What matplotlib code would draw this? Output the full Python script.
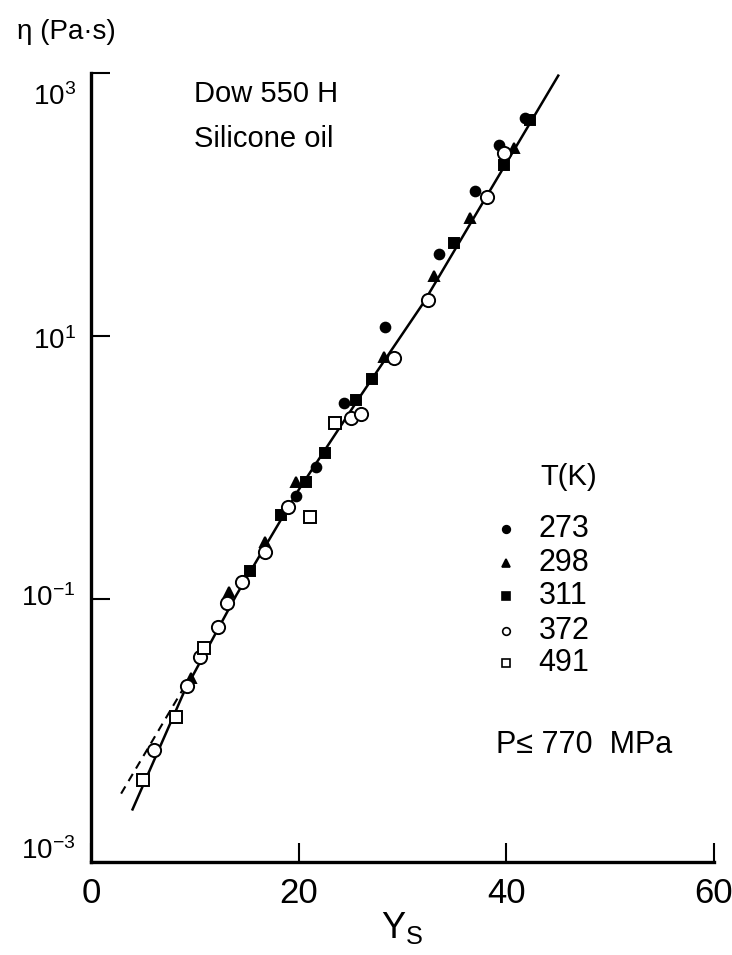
import matplotlib
matplotlib.use("Agg")
import matplotlib.pyplot as plt
from matplotlib import font_manager
import numpy as np

plt.rcParams["font.family"] = ["Liberation Sans", "DejaVu Sans"]
plt.rcParams["mathtext.fontset"] = "custom"
plt.rcParams["mathtext.rm"] = "Liberation Sans"
plt.rcParams["mathtext.it"] = "Liberation Sans:italic"
plt.rcParams["mathtext.bf"] = "Liberation Sans:bold"

# ── data: Ys and log10(viscosity) per temperature ────────────────────────────
ys_273 = [19.7, 21.7, 24.4, 28.3, 33.5, 37.0, 39.3, 41.8]
lg_273 = [-0.22, 0.00, 0.49, 1.07, 1.62, 2.10, 2.45, 2.66]

ys_298 = [9.6, 13.3, 16.8, 19.7, 28.2, 33.0, 36.5, 40.7]
lg_298 = [-1.60, -0.95, -0.57, -0.11, 0.84, 1.46, 1.90, 2.43]

ys_311 = [15.3, 18.3, 20.7, 22.5, 25.5, 27.1, 35.0, 39.8, 42.3]
lg_311 = [-0.79, -0.36, -0.11, 0.11, 0.51, 0.67, 1.71, 2.30, 2.64]

ys_372 = [6.1, 9.2, 10.5, 12.2, 13.1, 14.5, 16.8, 19.0, 25.0, 26.0, 29.2, 32.5, 38.1, 39.8]
lg_372 = [-2.15, -1.66, -1.44, -1.21, -1.03, -0.87, -0.64, -0.30, 0.38, 0.41, 0.83, 1.27, 2.06, 2.39]

ys_491 = [5.0, 8.2, 10.9, 21.1, 23.5]
lg_491 = [-2.38, -1.90, -1.37, -0.38, 0.34]

# correlation curve and its low-Ys dashed branch
fit_ys = [4.0, 9.0, 14.0, 20.0, 26.0, 32.0, 38.0, 45.0]
fit_lg = [-2.60, -1.70, -0.97, -0.17, 0.55, 1.25, 2.05, 2.98]
dash_ys = [2.9, 9.5]
dash_lg = [-2.48, -1.60]

temps = ["273", "298", "311", "372", "491"]
xtick_vals = [0, 20, 40, 60]
ytick_vals = [1e-3, 1e-1, 1e1, 1e3]
ytick_text = [r"$\mathregular{10^{-3}}$", r"$\mathregular{10^{-1}}$",
              r"$\mathregular{10^{1}}$", r"$\mathregular{10^{3}}$"]

# narrow face for the Ys numbers if it is around
installed = {f.name for f in font_manager.fontManager.ttflist}
if "Liberation Sans Narrow" in installed:
    xfont, xsize = "Liberation Sans Narrow", 28
else:
    xfont, xsize = "Liberation Sans", 25

fig = plt.figure(figsize=(7.32, 9.55), dpi=100)
ax = fig.add_axes([91 / 732, 1 - 862 / 955, 623 / 732, 789 / 955])
ax.set_yscale("log")
ax.set_xlim(0, 60)
ax.set_ylim(1e-3, 1e3)

ax.plot(fit_ys, 10 ** np.array(fit_lg), color="black", lw=1.8, clip_on=False, zorder=2)
ax.plot(dash_ys, 10 ** np.array(dash_lg), color="black", lw=1.5, ls=(0, (4, 3)), zorder=2)

series = [
    (ys_273, lg_273, "o", "black", 7),
    (ys_298, lg_298, "^", "black", 7),
    (ys_311, lg_311, "s", "black", 7),
    (ys_372, lg_372, "o", "white", 9.5),
    (ys_491, lg_491, "s", "white", 8.5),
]
for xs, lg, mk, fc, ms in series:
    ax.plot(xs, 10 ** np.array(lg), ls="none", marker=mk, ms=ms,
            mfc=fc, mec="black", mew=1.4, zorder=3, clip_on=False)

# legend drawn by hand as a column of markers and numbers
leg_lg = [-0.47, -0.73, -0.98, -1.24, -1.49]
for (xs, lg, mk, fc, ms), t, ly in zip(series, temps, leg_lg):
    ax.plot([40.0], [10 ** ly], marker=mk, ms=5.5, mfc=fc, mec="black", mew=1.2)
    ax.text(43.1, 10 ** ly, t, fontsize=22, va="center", ha="left")
ax.text(46.0, 10 ** -0.07, "T(K)", fontsize=21, va="center", ha="center")
ax.text(39.0, 10 ** -2.11, "P≤ 770  MPa", fontsize=22, va="center", ha="left")

ax.text(9.9, 10 ** 2.84, "Dow 550 H", fontsize=21, va="center", ha="left")
ax.text(9.9, 10 ** 2.50, "Silicone oil", fontsize=21, va="center", ha="left")

# axes styling
for side in ["top", "right"]:
    ax.spines[side].set_visible(False)
ax.spines["left"].set_linewidth(2.4)
ax.spines["bottom"].set_linewidth(2.4)

ax.set_xticks(xtick_vals)
ax.set_xticklabels([str(v) for v in xtick_vals], family=xfont, fontsize=xsize)
ax.set_yticks(ytick_vals)
ax.set_yticklabels([])
ax.minorticks_off()
ax.tick_params(axis="both", direction="in", length=14, width=1.5, pad=11)

# decade labels sit a little off their ticks at the two ends of the axis
label_dy = [2, -5, -9, -23]
for val, txt, dy in zip(ytick_vals, ytick_text, label_dy):
    ax.annotate(txt, xy=(0, val), xycoords=("axes fraction", "data"),
                xytext=(-11, dy), textcoords="offset points",
                ha="right", va="baseline", fontsize=20, annotation_clip=False)

ax.set_xlabel(r"Y$_\mathregular{S}$", fontsize=26, labelpad=0)
fig.text(17 / 732, 1 - 32 / 955, "η (Pa·s)", fontsize=20, va="center", ha="left")

fig.savefig("out.png", dpi=100)
